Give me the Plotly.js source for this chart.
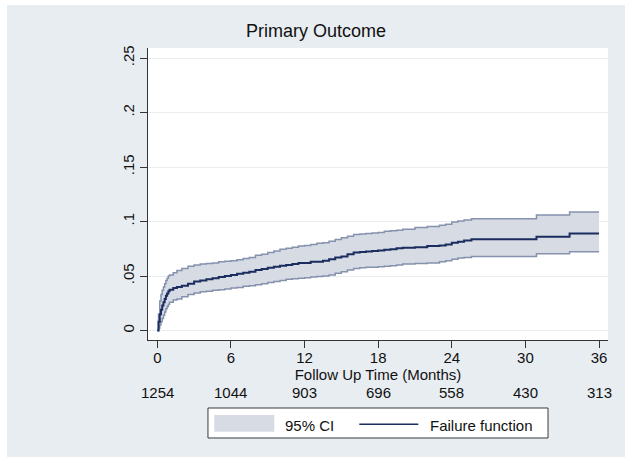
<!DOCTYPE html>
<html>
<head>
<meta charset="utf-8">
<script src="https://cdn.plot.ly/plotly-3.0.1.min.js"></script>
<style>
html,body{margin:0;padding:0;background:#ffffff;}
#chart{position:absolute;left:7px;top:5px;width:618px;height:452px;}
</style>
</head>
<body>
<div id="chart"></div>
<script>
// Follow-up time (months)
var months = [0, 0.1, 0.2, 0.3, 0.4, 0.5, 0.6, 0.7, 0.8, 0.9, 1.0, 1.3, 1.6, 2.0, 2.5, 3.0, 3.5, 4.0, 4.5, 5.0,
  5.5, 6.0, 6.5, 7.0, 7.5, 8.0, 8.5, 9.0, 9.5, 10.0, 10.5, 11.0, 11.5, 12.0, 12.5, 13.0, 13.5, 14.0, 14.5, 15.0,
  15.5, 16.0, 16.5, 17.0, 17.5, 18.0, 18.5, 19.0, 19.5, 20.0, 21.0, 22.0, 23.0, 23.5, 24.0, 24.5, 25.0, 25.6, 30.9, 33.6, 36.0];
// Failure function estimate
var failure = [0, 0.008, 0.015, 0.019, 0.023, 0.026, 0.029, 0.032, 0.034, 0.036, 0.0375, 0.039, 0.040, 0.041, 0.043, 0.045, 0.046, 0.047, 0.048, 0.049,
  0.050, 0.051, 0.052, 0.053, 0.054, 0.0555, 0.0565, 0.0575, 0.0585, 0.0595, 0.060, 0.061, 0.062, 0.062, 0.063, 0.063, 0.064, 0.0655, 0.067, 0.068,
  0.070, 0.0715, 0.072, 0.0725, 0.073, 0.0735, 0.074, 0.0745, 0.0755, 0.076, 0.0765, 0.0775, 0.078, 0.079, 0.0805, 0.0815, 0.0825, 0.0837, 0.086, 0.089, 0.089];
// 95% CI upper bound
var ciUpper = [0, 0.015, 0.027, 0.033, 0.037, 0.040, 0.043, 0.046, 0.048, 0.050, 0.051, 0.053, 0.055, 0.057, 0.059, 0.060, 0.061, 0.0615, 0.062, 0.063,
  0.0635, 0.064, 0.065, 0.066, 0.067, 0.069, 0.070, 0.0715, 0.073, 0.0745, 0.0755, 0.0765, 0.0775, 0.078, 0.079, 0.080, 0.0805, 0.082, 0.0835, 0.085,
  0.0865, 0.088, 0.0885, 0.089, 0.0895, 0.090, 0.091, 0.0915, 0.092, 0.093, 0.0945, 0.0955, 0.0965, 0.0975, 0.0995, 0.1005, 0.1015, 0.1025, 0.106, 0.1087, 0.1087];
// 95% CI lower bound
var ciLower = [0, 0.002, 0.005, 0.008, 0.011, 0.014, 0.017, 0.020, 0.022, 0.024, 0.026, 0.028, 0.029, 0.031, 0.033, 0.0345, 0.0355, 0.036, 0.037, 0.0375,
  0.038, 0.039, 0.0395, 0.0405, 0.041, 0.042, 0.043, 0.044, 0.045, 0.046, 0.047, 0.0475, 0.048, 0.0485, 0.049, 0.0495, 0.050, 0.051, 0.0525, 0.054,
  0.0555, 0.057, 0.0575, 0.058, 0.058, 0.0585, 0.059, 0.0595, 0.060, 0.061, 0.0615, 0.062, 0.063, 0.064, 0.0655, 0.0665, 0.067, 0.068, 0.0705, 0.0723, 0.0723];
// Axis ticks
var xTicks = [0, 6, 12, 18, 24, 30, 36];
var yTickVals = [0, 0.05, 0.1, 0.15, 0.2, 0.25];
var yTickText = ["0", ".05", ".1", ".15", ".2", ".25"];
// Number at risk
var atRisk = ["1254", "1044", "903", "696", "558", "430", "313"];

var FONT = "Liberation Sans, Arial, Helvetica, sans-serif";
var ciFill = "#d6dbe4", ciLine = "#8591ad", mainLine = "#1b2c5e";

var traces = [
  {x: months, y: ciLower, type: "scatter", mode: "lines", line: {shape: "hv", color: ciLine, width: 1.5},
   showlegend: false, hoverinfo: "skip"},
  {x: months, y: ciUpper, type: "scatter", mode: "lines", line: {shape: "hv", color: ciLine, width: 1.5},
   fill: "tonexty", fillcolor: ciFill, name: "95% CI", showlegend: false},
  {x: months, y: failure, type: "scatter", mode: "lines", line: {shape: "hv", color: mainLine, width: 2},
   name: "Failure function", showlegend: false}
];

var annotations = [];
for (var i = 0; i < xTicks.length; i++) {
  annotations.push({x: xTicks[i], y: -0.179, xref: "x", yref: "paper", text: atRisk[i], showarrow: false,
    xanchor: "center", yanchor: "middle", font: {family: FONT, size: 15, color: "#111111"}});
}
annotations.push({x: 0.2928, y: -0.2935, xref: "paper", yref: "paper", text: "95% CI", showarrow: false,
  xanchor: "left", yanchor: "middle", font: {family: FONT, size: 15, color: "#111111"}});
annotations.push({x: 0.6093, y: -0.2935, xref: "paper", yref: "paper", text: "Failure function", showarrow: false,
  xanchor: "left", yanchor: "middle", font: {family: FONT, size: 15, color: "#111111"}});

var shapes = [
  {type: "rect", xref: "paper", yref: "paper", x0: 0.1304, x1: 0.8696, y0: -0.2329, y1: -0.3356,
   fillcolor: "#ffffff", line: {color: "#3a3a3a", width: 1}},
  {type: "rect", xref: "paper", yref: "paper", x0: 0.1441, x1: 0.2746, y0: -0.2568, y1: -0.3140,
   fillcolor: ciFill, line: {width: 0}},
  {type: "line", xref: "paper", yref: "paper", x0: 0.4593, x1: 0.5876, y0: -0.2887, y1: -0.2887,
   line: {color: mainLine, width: 1.5}}
];

var layout = {
  width: 618, height: 452,
  margin: {l: 141, r: 17, t: 43, b: 117, pad: 0},
  paper_bgcolor: "#e8edf1",
  plot_bgcolor: "#ffffff",
  font: {family: FONT, size: 15, color: "#111111"},
  title: {text: "Primary Outcome", x: 0.5, xref: "container", xanchor: "center",
          y: 0.9425, yref: "container", yanchor: "middle", font: {family: FONT, size: 18, color: "#111111"}},
  xaxis: {range: [-0.758, 36.73], tickvals: xTicks, ticktext: xTicks.map(String), ticks: "outside", ticklen: 7,
          tickcolor: "#333333", showline: true, linecolor: "#333333", linewidth: 1, showgrid: false, zeroline: false,
          ticklabelstandoff: -3,
          tickfont: {family: FONT, size: 15, color: "#111111"},
          title: {text: "Follow Up Time (Months)", standoff: 0, font: {family: FONT, size: 15, color: "#111111"}}},
  yaxis: {range: [-0.0087, 0.2592], tickvals: yTickVals, ticktext: yTickText, ticks: "outside", ticklen: 7,
          tickcolor: "#333333", showline: true, linecolor: "#333333", linewidth: 1, showgrid: true,
          gridcolor: "#e8edf1", gridwidth: 1, zeroline: false, tickangle: -90,
          tickfont: {family: FONT, size: 15, color: "#111111"}},
  shapes: shapes,
  annotations: annotations,
  showlegend: false
};

Plotly.newPlot("chart", traces, layout, {displayModeBar: false, staticPlot: true});
</script>
</body>
</html>
